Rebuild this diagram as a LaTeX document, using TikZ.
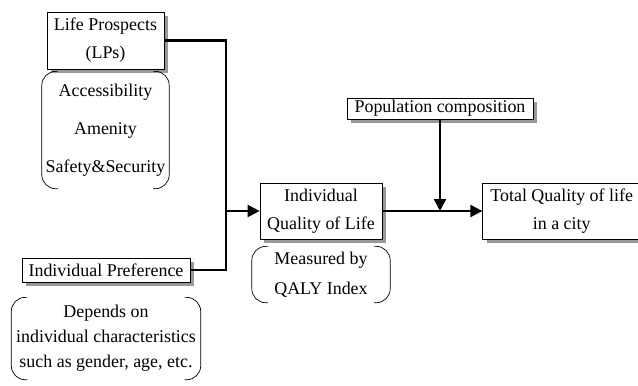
\documentclass[tikz,border=0pt]{standalone}
\usepackage{fontspec}
\setmainfont{Liberation Serif}
\usetikzlibrary{arrows.meta, positioning, shadows}

\begin{document}
\begin{tikzpicture}[x=1bp, y=1bp,
  box/.style={draw, line width=0.7bp, fill=white, inner sep=0pt, align=center,
    drop shadow={shadow xshift=4bp, shadow yshift=-4bp, fill=black!40, opacity=1}},
  brk/.style={inner sep=0pt, align=center},
  txt/.style={font=\fontsize{18}{#1}\selectfont},
  wire/.style={line width=2.2bp},
  flow/.style={wire, -{Triangle[length=12bp, width=12bp]}}]
  \useasboundingbox (0,0) rectangle (638,385);

  \node[box, txt=28, minimum width=117bp, minimum height=57bp] (lp) at (105.5,344.5) {Life Prospects\\(LPs)};
  \node[brk, txt=38, minimum width=127bp, minimum height=117bp, below=2bp of lp] (lpsub)
    {Accessibility\\Amenity\\Safety\&Security};
  \node[box, txt=21, minimum width=168bp, minimum height=24bp] (ip) at (106,115) {Individual Preference};
  \node[brk, txt=25, minimum width=189bp, minimum height=82bp, below=15bp of ip] (ipsub)
    {Depends on\\individual characteristics\\such as gender, age, etc.};
  \node[box, txt=28, minimum width=122bp, minimum height=56bp] (qol) at (321,174) {Individual\\Quality of Life};
  \node[brk, txt=30, minimum width=138bp, minimum height=56bp, below=7bp of qol] (qolsub) {Measured by\\QALY Index};
  \node[box, txt=28, minimum width=158bp, minimum height=56bp, right=100bp of qol] (tot) {Total Quality of life\\in a city};
  \node[box, txt=21, minimum width=186bp, minimum height=21bp] (pop) at (440,276.5) {Population composition};

  % bracket pairs round the notes
  \foreach \n in {lpsub,qolsub,ipsub} {
    \draw[line width=0.7bp, rounded corners=14bp] ([xshift=16bp]\n.north west) -- (\n.north west)
      -- (\n.south west) -- ([xshift=16bp]\n.south west);
    \draw[line width=0.7bp, rounded corners=14bp] ([xshift=-16bp]\n.north east) -- (\n.north east)
      -- (\n.south east) -- ([xshift=-16bp]\n.south east);
  }

  \coordinate[left=34bp of qol.west] (join);
  \draw[wire] (lp.east) -| (join);
  \draw[wire] (ip.east) -| (join);
  \draw[flow] (join) -- (qol.west);
  \draw[flow] (qol.east) -- (tot.west);
  \draw[flow] (pop.south) -- (pop.south |- tot.west);
\end{tikzpicture}
\end{document}
